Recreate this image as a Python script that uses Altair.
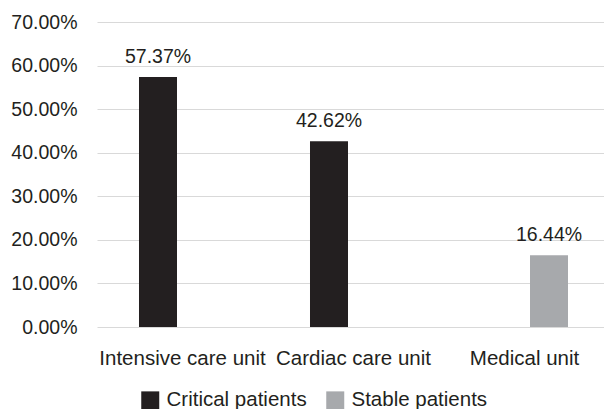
import altair as alt
import pandas as pd

# Share of patients per unit, by patient status
units = ["Intensive care unit", "Cardiac care unit", "Medical unit"]
statuses = ["Critical patients", "Stable patients"]
bar_units = ["Intensive care unit", "Cardiac care unit", "Medical unit"]
bar_status = ["Critical patients", "Critical patients", "Stable patients"]
bar_values = [0.5737, 0.4262, 0.1644]

df = pd.DataFrame({"unit": bar_units, "status": bar_status, "share": bar_values})

FONT = "Liberation Sans"
TEXT = "#231f20"
FS = 19.5      # numbers
FS_WORDS = 20.5  # category and legend words

x_enc = alt.X(
    "unit:N",
    sort=units,
    scale=alt.Scale(domain=units, range=[0, 513], paddingInner=0, paddingOuter=0),
    axis=alt.Axis(
        title=None, labelAngle=0, domain=False, ticks=False,
        labelFont=FONT, labelFontSize=FS_WORDS, labelColor=TEXT, labelPadding=21,
    ),
)
off_enc = alt.XOffset(
    "status:N",
    scale=alt.Scale(domain=statuses, paddingInner=0.2245, paddingOuter=0.857),
)
y_enc = alt.Y(
    "share:Q",
    scale=alt.Scale(domain=[0, 0.7]),
    axis=alt.Axis(
        title=None, format=".2%", values=[0, 0.1, 0.2, 0.3, 0.4, 0.5, 0.6, 0.7],
        domain=False, ticks=False, grid=True, gridColor="#d9d9d9", gridWidth=1.2,
        labelFont=FONT, labelFontSize=FS, labelColor=TEXT, labelPadding=20,
    ),
)

bars = alt.Chart(df).mark_bar().encode(
    x=x_enc,
    xOffset=off_enc,
    y=y_enc,
    color=alt.Color(
        "status:N",
        scale=alt.Scale(domain=statuses, range=["#231f20", "#a7a9ac"]),
        legend=alt.Legend(
            title=None, orient="none", legendX=43, legendY=368, direction="horizontal",
            symbolType="square", symbolSize=324, symbolStrokeWidth=0, symbolOpacity=1,
            labelFont=FONT, labelFontSize=FS_WORDS, labelColor=TEXT, labelOffset=6,
            columnPadding=18, labelLimit=300,
        ),
    ),
)

labels = alt.Chart(df).mark_text(
    font=FONT, fontSize=FS, color=TEXT, baseline="alphabetic", dy=-14,
).encode(
    x=alt.X("unit:N", sort=units),
    xOffset=alt.XOffset("status:N"),
    y=alt.Y("share:Q"),
    text=alt.Text("share:Q", format=".2%"),
)

chart = (
    alt.layer(bars, labels)
    .properties(
        width=507, height=305,
        autosize=alt.AutoSizeParams(type="none"),
        padding={"left": 97, "top": 22, "right": 0, "bottom": 82},
        background="white",
    )
    .configure_view(stroke=None)
)

chart.save("out.html", embed_options={"renderer": "svg", "actions": False})
